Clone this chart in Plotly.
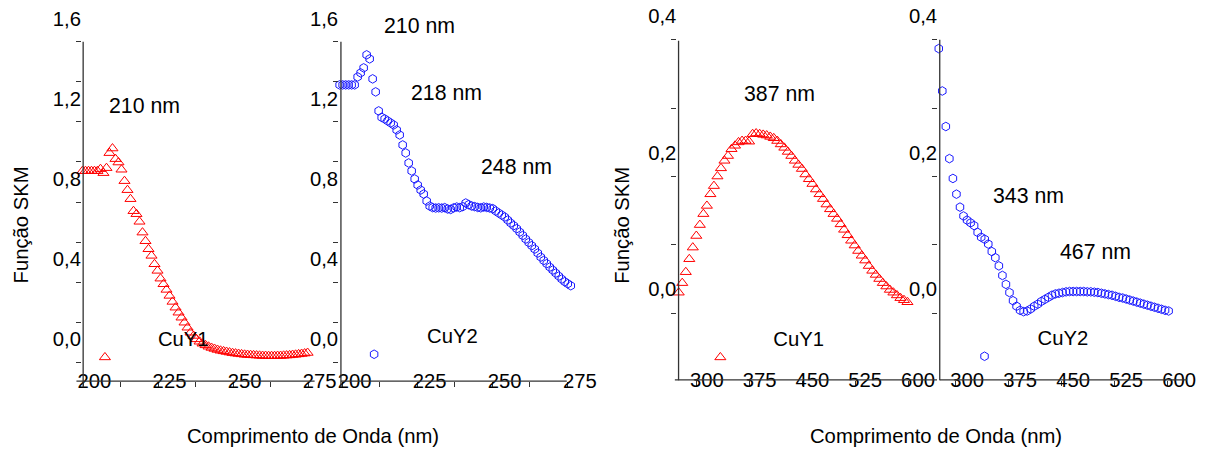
import plotly.graph_objects as go

# ---------------- data ----------------
wl_cuy1_uv = [196, 197, 198, 199, 200, 201, 202, 203, 204, 205, 206, 207, 208, 209, 210,
              211, 212, 213, 214, 215, 216, 217, 218, 219, 220, 221, 222, 223, 224, 225,
              226, 227, 228, 229, 230, 231, 232, 233, 234, 235, 236, 237, 238, 239, 240,
              241, 242, 243, 244, 245, 246, 247, 248, 249, 250, 251, 252, 253, 254, 255,
              256, 257, 258, 259, 260, 261, 262, 263, 264, 265, 266, 267, 268, 269, 270, 271]
skm_cuy1_uv = [0.84, 0.84, 0.84, 0.84, 0.84, 0.84, 0.85, 0.83, 0.855, 0.93, 0.953, 0.90, 0.883, 0.847, 0.79,
               0.745, 0.70, 0.64, 0.625, 0.587, 0.533, 0.49, 0.45, 0.417, 0.375, 0.342, 0.303, 0.275, 0.247, 0.217,
               0.187, 0.158, 0.133, 0.108, 0.083, 0.058, 0.033, 0.017, 0.0, -0.012, -0.022, -0.03, -0.037, -0.043, -0.048,
               -0.053, -0.057, -0.06, -0.063, -0.066, -0.069, -0.071, -0.073, -0.075, -0.077, -0.078, -0.079, -0.08, -0.081, -0.082,
               -0.083, -0.083, -0.084, -0.084, -0.084, -0.083, -0.083, -0.082, -0.081, -0.08, -0.078, -0.077, -0.075, -0.073, -0.071, -0.068]

wl_cuy2_uv = [195, 196, 197, 198, 199, 200, 201, 202, 203, 204, 205, 206, 207, 208, 209,
              210, 211, 212, 213, 214, 215, 216, 217, 218, 219, 220, 221, 222, 223, 224,
              225, 226, 227, 228, 229, 230, 231, 232, 233, 234, 235, 236, 237, 238, 239,
              240, 241, 242, 243, 244, 245, 246, 247, 248, 249, 250, 251, 252, 253, 254,
              255, 256, 257, 258, 259, 260, 261, 262, 263, 264, 265, 266, 267, 268, 269,
              270, 271, 272]
skm_cuy2_uv = [1.27, 1.27, 1.27, 1.27, 1.27, 1.27, 1.31, 1.33, 1.355, 1.42, 1.40, 1.30, 1.235, 1.14, 1.108,
               1.10, 1.09, 1.08, 1.07, 1.045, 1.02, 0.97, 0.93, 0.88, 0.84, 0.80, 0.77, 0.745, 0.725, 0.69,
               0.665, 0.657, 0.655, 0.656, 0.655, 0.657, 0.650, 0.648, 0.656, 0.660, 0.657, 0.662, 0.68, 0.672, 0.665,
               0.662, 0.658, 0.656, 0.660, 0.658, 0.655, 0.652, 0.64, 0.63, 0.62, 0.61, 0.595, 0.58, 0.567, 0.552,
               0.535, 0.518, 0.50, 0.483, 0.467, 0.45, 0.43, 0.41, 0.393, 0.377, 0.36, 0.345, 0.33, 0.315, 0.30,
               0.287, 0.277, 0.267]

wl_vis = [260, 265, 270, 275, 280, 285, 290, 295, 300, 305, 310, 315, 320, 325, 330,
          335, 340, 345, 350, 355, 360, 365, 370, 375, 380, 385, 390, 395, 400, 405,
          410, 415, 420, 425, 430, 435, 440, 445, 450, 455, 460, 465, 470, 475, 480,
          485, 490, 495, 500, 505, 510, 515, 520, 525, 530, 535, 540, 545, 550, 555,
          560, 565, 570, 575, 580, 585]
skm_cuy1_vis = [-0.005, 0.009, 0.025, 0.044, 0.061, 0.078, 0.094, 0.11, 0.122, 0.139, 0.151, 0.165, 0.177, 0.188, 0.195,
                0.205, 0.210, 0.215, 0.217, 0.217, 0.216, 0.227, 0.228, 0.227, 0.226, 0.225, 0.223, 0.221, 0.217, 0.212,
                0.207, 0.201, 0.195, 0.188, 0.182, 0.176, 0.168, 0.161, 0.154, 0.146, 0.139, 0.132, 0.124, 0.117, 0.110,
                0.103, 0.095, 0.087, 0.079, 0.071, 0.064, 0.056, 0.049, 0.042, 0.034, 0.027, 0.021, 0.015, 0.009, 0.004,
                -0.001, -0.005, -0.009, -0.013, -0.016, -0.019]
skm_cuy2_vis = [0.352, 0.290, 0.238, 0.191, 0.162, 0.139, 0.120, 0.107, 0.101, 0.097, 0.093, 0.083, 0.076, 0.073, 0.066,
                0.055, 0.046, 0.034, 0.020, 0.007, -0.005, -0.017, -0.025, -0.031, -0.033, -0.032, -0.029, -0.025, -0.022, -0.018,
                -0.015, -0.012, -0.009, -0.007, -0.006, -0.005, -0.004, -0.0035, -0.0035, -0.0035, -0.0035, -0.0035, -0.004, -0.004, -0.0045,
                -0.005, -0.006, -0.007, -0.008, -0.009, -0.0105, -0.012, -0.013, -0.0145, -0.016, -0.0175, -0.019, -0.0205, -0.022, -0.0235,
                -0.025, -0.0265, -0.028, -0.0295, -0.031, -0.032]

x_ticks_uv = [200, 225, 250, 275]
x_ticks_vis = [300, 375, 450, 525, 600]
y_ticks_uv = [0.0, 0.4, 0.8, 1.2, 1.6]
y_ticks_vis = [0.0, 0.2, 0.4]

series_names = ["CuY1", "CuY2", "CuY1", "CuY2"]
peak_labels = [["210 nm"], ["210 nm", "218 nm", "248 nm"], ["387 nm"], ["343 nm", "467 nm"]]
x_title = "Comprimento de Onda (nm)"
y_title = "Função SKM"

# ---------------- layout geometry ----------------
W, H = 1208, 450
# the photographed page comes out slightly scaled/offset; positions below are
# target-image pixels, converted to figure pixels with this small correction
SX, OX = 0.9836, 2.6
SY, OY = 0.990, 5.2
SF = 1 / 0.987

FONT = "Arial, Liberation Sans, sans-serif"
FS = 20 * SF
FS_PEAK = 21 * SF
LEG_FS = 43 * SF  # legend line spacing font (drops the legend symbol below its label)
AX = "#333333"
RED = "#ff0000"
BLUE = "#1a1aff"


def tx(px):
    return (px - OX) / SX


def ty(py):
    return (py - OY) / SY


def fx(px):
    return tx(px) / W


def fy(py):
    return 1 - ty(py) / H


# per panel (target pixels): x-axis span, reference label value/pixel and px per unit; y likewise
panels = [
    dict(x0=80.5, x1=320, xv=200, xp=93, xs=3.0, yb=382, yt=10, yv=0, yp=340, ys=200,
         xt0=196.233, xdt=12.5, yt0=1.485, ydt=0.2),
    dict(x0=337.5, x1=582, xv=200, xp=353, xs=3.0, yb=382, yt=10, yv=0, yp=340, ys=200,
         xt0=195.83, xdt=12.5, yt0=1.485, ydt=0.2),
    dict(x0=675.5, x1=922, xv=300, xp=705, xs=0.7033, yb=380.7, yt=10, yv=0, yp=290, ys=682.5,
         xt0=285.8, xdt=75, yt0=0.065, ydt=0.1),
    dict(x0=936, x1=1186, xv=300, xp=965, xs=0.7067, yb=380.7, yt=10, yv=0, yp=290, ys=682.5,
         xt0=283.4, xdt=75, yt0=0.065, ydt=0.1),
]

xs_data = [wl_cuy1_uv, wl_cuy2_uv, wl_vis, wl_vis]
ys_data = [skm_cuy1_uv, skm_cuy2_uv, skm_cuy1_vis, skm_cuy2_vis]
symbols = ["triangle-up-open", "hexagon-open", "triangle-up-open", "hexagon-open"]
sizes = [9.5 * SF, 8.5 * SF, 9.5 * SF, 8.5 * SF]
colors = [RED, BLUE, RED, BLUE]
xticks = [x_ticks_uv, x_ticks_uv, x_ticks_vis, x_ticks_vis]
yticks = [y_ticks_uv, y_ticks_uv, y_ticks_vis, y_ticks_vis]

fig = go.Figure()
layout = dict(
    width=W, height=H,
    margin=dict(l=0, r=0, t=0, b=0),
    paper_bgcolor="white", plot_bgcolor="rgba(0,0,0,0)",
    separators=",.",
    font=dict(family=FONT, size=FS, color="black"),
    showlegend=True,
)

# legend symbol centre x (target px) and label text centre y (target px)
legend_sym = [(107.5, 340), (376.5, 337), (722.5, 340), (986.5, 339)]
ITEMW = 96

for i, p in enumerate(panels):
    n = "" if i == 0 else str(i + 1)
    xr = [p["xv"] + (p["x0"] - p["xp"]) / p["xs"], p["xv"] + (p["x1"] - p["xp"]) / p["xs"]]
    yr = [p["yv"] + (p["yp"] - p["yb"]) / p["ys"], p["yv"] + (p["yp"] - p["yt"]) / p["ys"]]
    leg = "legend" + n
    label = "<span style='font-size:%.2fpx'>%s</span><br> " % (FS, series_names[i])
    fig.add_trace(go.Scatter(
        x=xs_data[i], y=ys_data[i], mode="markers", name=label,
        marker=dict(symbol=symbols[i], size=sizes[i], color=colors[i], line=dict(width=1, color=colors[i])),
        xaxis="x" + n, yaxis="y" + n, legend=leg, cliponaxis=False,
    ))
    layout["xaxis" + n] = dict(
        domain=[fx(p["x0"]), fx(p["x1"])], range=xr, anchor="y" + n,
        tickmode="array", tickvals=xticks[i], ticks="", showline=False,
        showgrid=False, zeroline=False, ticklabelstandoff=-14,
        tickfont=dict(family=FONT, size=FS, color="black"),
        minor=dict(tickmode="linear", tick0=p["xt0"], dtick=p["xdt"], ticks="outside",
                   ticklen=5, tickwidth=1, tickcolor=AX, showgrid=False),
    )
    layout["yaxis" + n] = dict(
        domain=[fy(p["yb"]), fy(p["yt"])], range=yr, anchor="x" + n,
        tickmode="array", tickvals=yticks[i], tickformat=".1f", ticks="", showline=False,
        showgrid=False, zeroline=False,
        tickfont=dict(family=FONT, size=FS, color="black"),
        minor=dict(tickmode="linear", tick0=p["yt0"], dtick=p["ydt"], ticks="outside",
                   ticklen=5, tickwidth=1, tickcolor=AX, showgrid=False),
    )
    sx, sy = legend_sym[i]
    layout[leg] = dict(x=fx(sx - (ITEMW / 2 + 9)), y=fy(sy - 45), xanchor="left", yanchor="top",
                       bgcolor="rgba(0,0,0,0)", borderwidth=0, itemwidth=ITEMW, valign="middle",
                       font=dict(family=FONT, size=LEG_FS, color="black"))

# axis lines drawn as frame shapes (paper coordinates)
axis_lines = [
    (81.7, 43, 81.7, 388), (75, 382, 313, 382),
    (339.3, 43, 339.3, 388), (339.3, 382, 565, 382),
    (676.7, 42, 676.7, 381), (673, 380.7, 935, 380.7),
    (937.7, 41, 937.7, 381), (937.7, 380.7, 1185, 380.7),
]
shapes = []
for (a, b, c, d) in axis_lines:
    shapes.append(dict(type="line", xref="paper", yref="paper", x0=fx(a), y0=fy(b), x1=fx(c), y1=fy(d),
                       line=dict(color=AX, width=1.3), layer="above"))
layout["shapes"] = shapes

# text annotations (peak labels and titles) in target pixel positions
peak_pos = [[(143, 107)], [(418, 27), (445, 94), (515, 168)], [(778, 95)], [(1026, 197), (1093, 253)]]
ann = []
for labels, poss in zip(peak_labels, peak_pos):
    for t, (px, py) in zip(labels, poss):
        ann.append(dict(text=t, x=fx(px), y=fy(py), xref="paper", yref="paper", showarrow=False,
                        xanchor="center", yanchor="middle", font=dict(family=FONT, size=FS_PEAK, color="black")))
for (px, py) in [(311, 437), (934, 437)]:
    ann.append(dict(text=x_title, x=fx(px), y=fy(py), xref="paper", yref="paper", showarrow=False,
                    xanchor="center", yanchor="middle", font=dict(family=FONT, size=FS, color="black")))
for (px, py) in [(20, 226), (620, 226)]:
    ann.append(dict(text=y_title, x=fx(px), y=fy(py), xref="paper", yref="paper", showarrow=False,
                    textangle=-90, xanchor="center", yanchor="middle",
                    font=dict(family=FONT, size=FS, color="black")))
layout["annotations"] = ann

fig.update_layout(**layout)
fig.write_html(
    "out.html",
    config={"displayModeBar": False},
    post_script=("document.body.style.margin='0px';"
                 "document.body.style.overflow='hidden';"
                 "document.documentElement.style.overflow='hidden';"),
)
